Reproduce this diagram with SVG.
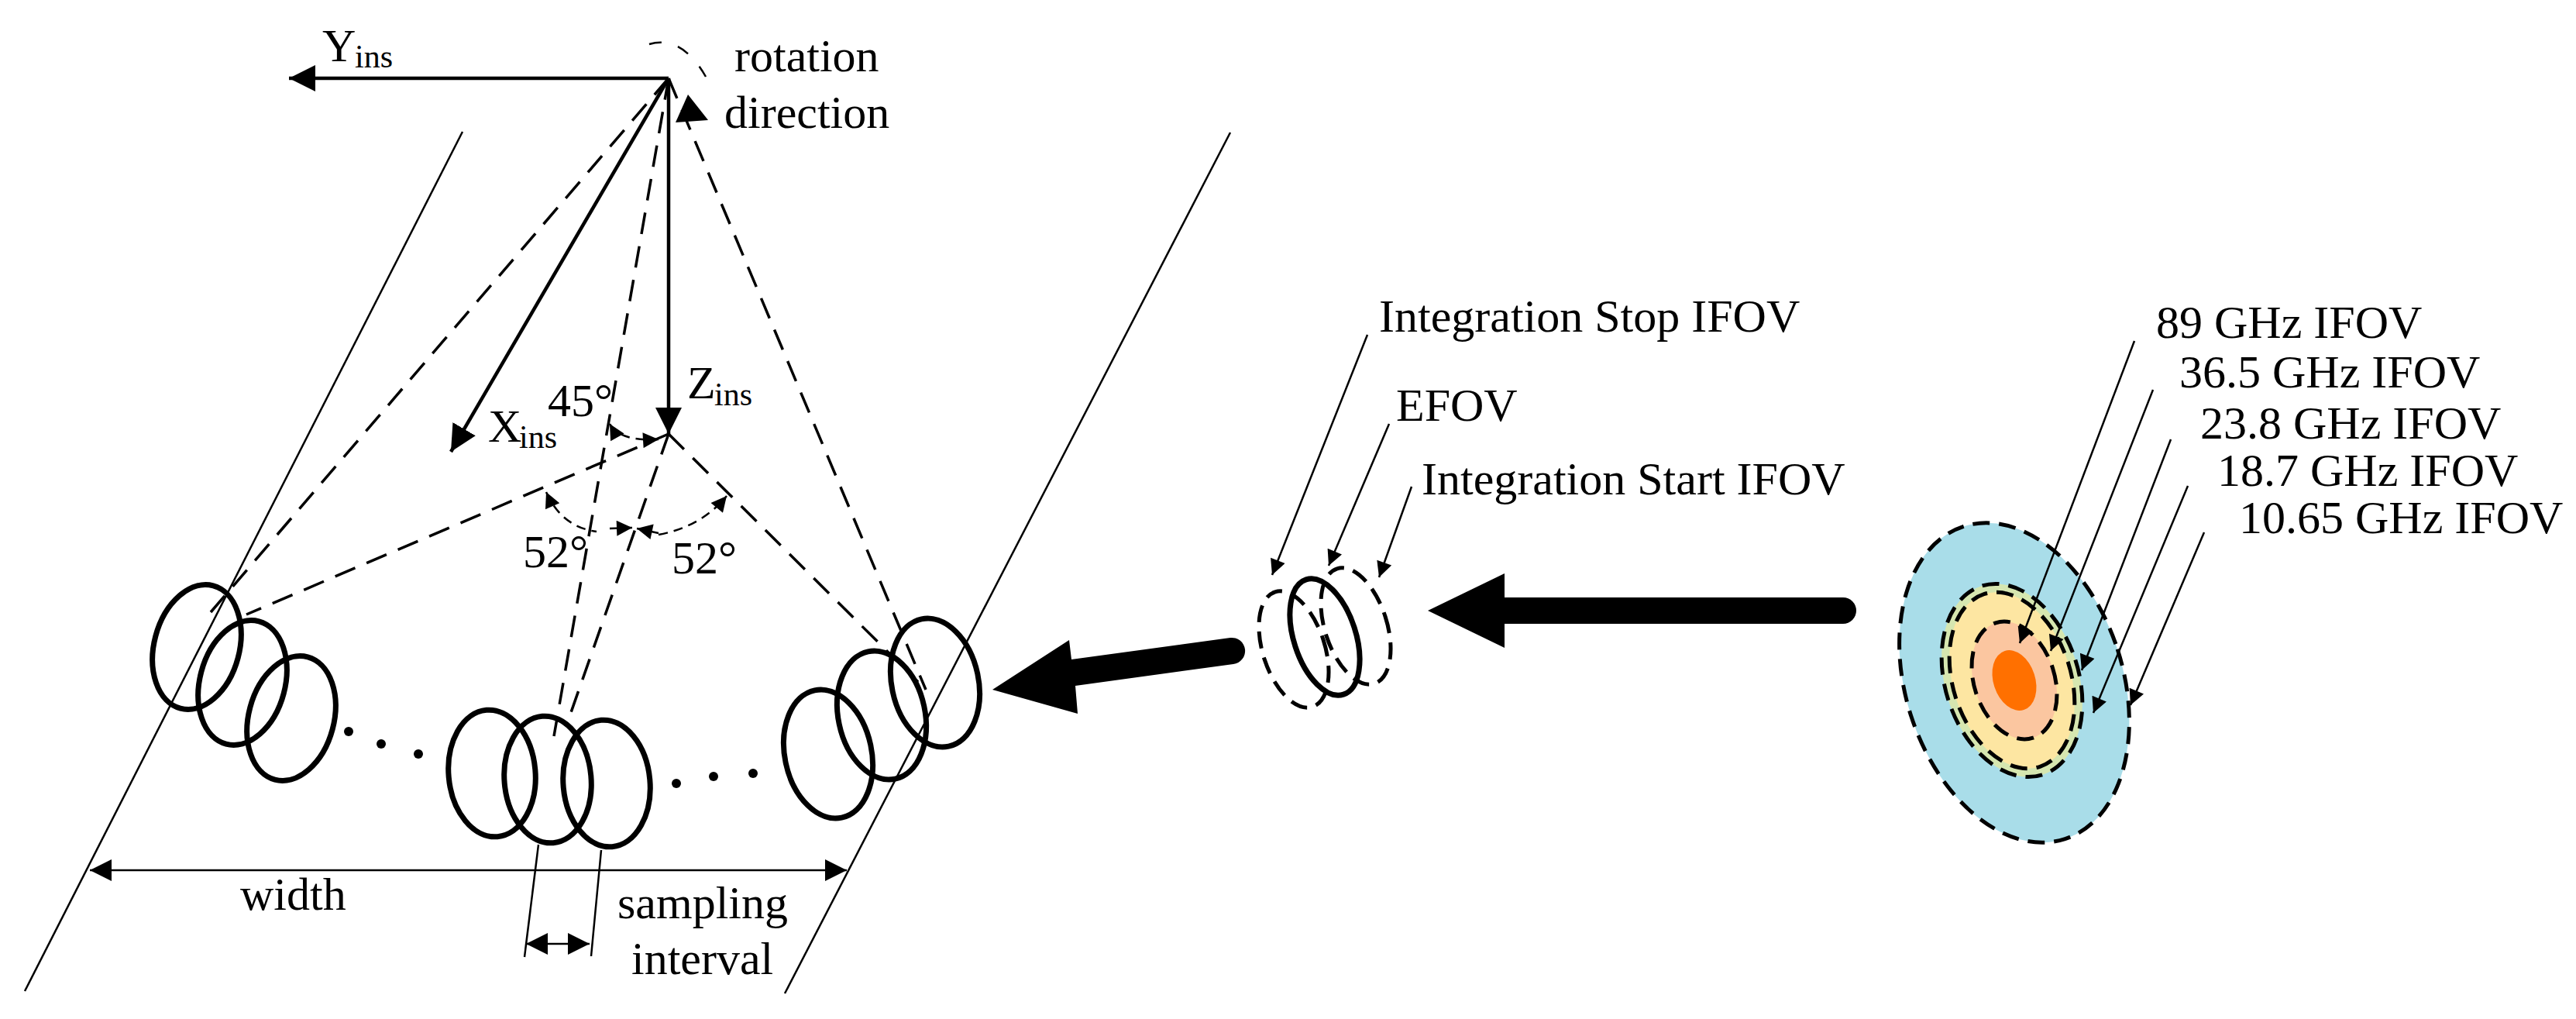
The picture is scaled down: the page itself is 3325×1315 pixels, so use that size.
<svg xmlns="http://www.w3.org/2000/svg" width="3325" height="1315" viewBox="0 0 3325 1315">
<style>
text{font-family:"Liberation Serif","Times New Roman",serif;fill:#000}
.t{font-size:60px}.s{font-size:42px}.l{font-size:60px}
.ax{stroke:#000;stroke-width:4.5;fill:none}
.d{stroke:#000;stroke-width:3.5;fill:none;stroke-dasharray:28 16}
.thin{stroke:#000;stroke-width:2.5;fill:none}
.ell{stroke:#000;stroke-width:7;fill:none}
.de{stroke:#000;stroke-width:5;fill:none;stroke-dasharray:22 12}
.ce{stroke:#000;stroke-width:5;stroke-dasharray:22 12}
</style>
<defs>
<marker id="ah" viewBox="0 0 10 10" refX="10" refY="5" markerWidth="34" markerHeight="34" markerUnits="userSpaceOnUse" orient="auto"><path d="M0 0L10 5L0 10z"/></marker>
<marker id="sh" viewBox="0 0 10 10" refX="10" refY="5" markerWidth="26" markerHeight="20" markerUnits="userSpaceOnUse" orient="auto"><path d="M0 0L10 5L0 10z"/></marker>
<marker id="ss" viewBox="0 0 10 10" refX="0" refY="5" markerWidth="26" markerHeight="20" markerUnits="userSpaceOnUse" orient="auto"><path d="M10 0L0 5L10 10z"/></marker>
<marker id="bh" viewBox="0 0 10 10" refX="10" refY="5" markerWidth="30" markerHeight="28" markerUnits="userSpaceOnUse" orient="auto"><path d="M0 0L10 5L0 10z"/></marker>
<marker id="bs" viewBox="0 0 10 10" refX="0" refY="5" markerWidth="30" markerHeight="28" markerUnits="userSpaceOnUse" orient="auto"><path d="M10 0L0 5L10 10z"/></marker>
</defs>
<g id="swath">
<line class="thin" x1="597" y1="170" x2="32" y2="1279"/>
<line class="thin" x1="1588" y1="171" x2="1013" y2="1282"/>
</g>
<g id="connectors">
<line class="ax" x1="863" y1="101" x2="373" y2="101" marker-end="url(#ah)"/>
<line class="ax" x1="863" y1="101" x2="863" y2="560" marker-end="url(#ah)"/>
<line class="ax" x1="863" y1="101" x2="582" y2="583" marker-end="url(#ah)"/>
<path class="thin" stroke-width="3.5" d="M838 57 Q880 45 911 99" stroke-dasharray="16 22"/>
<path d="M872 158 L888 122 L914 155z"/>
<line class="d" x1="863" y1="101" x2="272" y2="790"/>
<line class="d" x1="863" y1="101" x2="1195" y2="890"/>
<line class="d" x1="863" y1="101" x2="715" y2="950"/>
<line class="d" x1="863" y1="560" x2="318" y2="793"/>
<line class="d" x1="863" y1="560" x2="1185" y2="880"/>
<line class="d" x1="863" y1="560" x2="735" y2="925"/>
<path class="thin" d="M787 547 Q800 570 850 567" stroke-dasharray="12 8" marker-end="url(#sh)" marker-start="url(#ss)"/>
<path class="thin" d="M705 635 Q725 680 770 686" stroke-dasharray="12 8" marker-start="url(#ss)"/>
<path class="thin" d="M787 682 L816 681" marker-end="url(#sh)"/>
<path class="thin" d="M850 688 L822 682" marker-end="url(#sh)"/>
<path class="thin" d="M850 690 Q905 680 938 640" stroke-dasharray="12 8" marker-end="url(#sh)"/>
<line class="thin" x1="116" y1="1123" x2="1093" y2="1123" marker-start="url(#bs)" marker-end="url(#bh)"/>
<line class="thin" stroke-width="3" x1="695" y1="1090" x2="677" y2="1235"/>
<line class="thin" stroke-width="3" x1="776" y1="1097" x2="763" y2="1234"/>
<line class="thin" stroke-width="3" x1="679" y1="1218" x2="761" y2="1218" marker-start="url(#bs)" marker-end="url(#bh)"/>
<path d="M1588 823 L1383 851 L1380 826 L1281 890 L1391 921 L1388 885 L1592 857 A17 17 0 0 0 1588 823z"/>
<path d="M2379 771 L1942 771 L1942 740 L1843 788 L1942 836 L1942 805 L2379 805 A17 17 0 0 0 2379 771z"/>
<line class="thin" x1="1765" y1="432" x2="1642" y2="742" marker-end="url(#sh)"/>
<line class="thin" x1="1793" y1="547" x2="1715" y2="730" marker-end="url(#sh)"/>
<line class="thin" x1="1822" y1="628" x2="1780" y2="745" marker-end="url(#sh)"/>
</g>
<g id="axis-labels">
<text class="t" x="416" y="79">Y</text><text class="s" x="458" y="87">ins</text>
<text class="t" x="948" y="92">rotation</text>
<text class="t" x="935" y="165">direction</text>
<text class="t" x="887" y="514">Z</text><text class="s" x="922" y="523">ins</text>
<text class="t" x="630" y="570">X</text><text class="s" x="670" y="578">ins</text>
<text class="t" x="707" y="537">45°</text>
<text class="t" x="675" y="732">52°</text>
<text class="t" x="867" y="740">52°</text>
<text class="t" x="310" y="1174">width</text>
<text class="t" x="797" y="1185">sampling</text>
<text class="t" x="815" y="1257">interval</text>
</g>
<g id="left-footprints">
<ellipse class="ell" cx="254" cy="835" rx="55" ry="82" transform="rotate(15 254 835)"/>
<ellipse class="ell" cx="313" cy="881" rx="55" ry="82" transform="rotate(15 313 881)"/>
<ellipse class="ell" cx="376" cy="927" rx="55" ry="82" transform="rotate(15 376 927)"/>
<circle cx="450" cy="944" r="6"/><circle cx="492" cy="960" r="6"/><circle cx="540" cy="973" r="6"/>
</g>
<g id="middle-footprints">
<ellipse class="ell" cx="635" cy="998" rx="56" ry="82" transform="rotate(-5 635 998)"/>
<ellipse class="ell" cx="707" cy="1006" rx="56" ry="82" transform="rotate(-5 707 1006)"/>
<ellipse class="ell" cx="783" cy="1011" rx="56" ry="82" transform="rotate(-5 783 1011)"/>
<circle cx="873" cy="1011" r="6"/><circle cx="921" cy="1002" r="6"/><circle cx="972" cy="998" r="6"/>
</g>
<g id="right-footprints">
<ellipse class="ell" cx="1069" cy="973" rx="56" ry="84" transform="rotate(-12 1069 973)"/>
<ellipse class="ell" cx="1138" cy="923" rx="56" ry="84" transform="rotate(-12 1138 923)"/>
<ellipse class="ell" cx="1207" cy="881" rx="56" ry="84" transform="rotate(-12 1207 881)"/>
</g>
<g id="efov">
<ellipse class="de" cx="1670" cy="838" rx="40" ry="78" transform="rotate(-18 1670 838)"/>
<ellipse class="ell" cx="1710" cy="822" rx="40" ry="78" stroke-width="6" transform="rotate(-18 1710 822)"/>
<ellipse class="de" cx="1750" cy="808" rx="40" ry="78" transform="rotate(-18 1750 808)"/>
<text class="l" x="1780" y="428">Integration Stop IFOV</text>
<text class="l" x="1802" y="543">EFOV</text>
<text class="l" x="1835" y="638">Integration Start IFOV</text>
</g>
<g id="ifov">
<ellipse class="ce" fill="#a9dde9" cx="2600" cy="881" rx="140" ry="212" transform="rotate(-18 2600 881)"/>
<ellipse class="ce" fill="#d6e6b0" cx="2597" cy="878" rx="86" ry="128" transform="rotate(-18 2597 878)"/>
<ellipse class="ce" fill="#fde6a2" cx="2597" cy="878" rx="76" ry="117" transform="rotate(-18 2597 878)"/>
<ellipse class="ce" fill="#fbc6a0" cx="2600" cy="878" rx="52" ry="78" transform="rotate(-18 2600 878)"/>
<ellipse fill="#ff7000" cx="2600" cy="878" rx="27" ry="40" transform="rotate(-18 2600 878)"/>
<line class="thin" x1="2755" y1="440" x2="2607" y2="830" marker-end="url(#sh)"/>
<line class="thin" x1="2779" y1="503" x2="2647" y2="840" marker-end="url(#sh)"/>
<line class="thin" x1="2802" y1="567" x2="2687" y2="865" marker-end="url(#sh)"/>
<line class="thin" x1="2824" y1="627" x2="2702" y2="920" marker-end="url(#sh)"/>
<line class="thin" x1="2845" y1="687" x2="2750" y2="910" marker-end="url(#sh)"/>
<text class="l" x="2783" y="436">89 GHz IFOV</text>
<text class="l" x="2813" y="500">36.5 GHz IFOV</text>
<text class="l" x="2840" y="566">23.8 GHz IFOV</text>
<text class="l" x="2862" y="627">18.7 GHz IFOV</text>
<text class="l" x="2890" y="688">10.65 GHz IFOV</text>
</g>
</svg>
